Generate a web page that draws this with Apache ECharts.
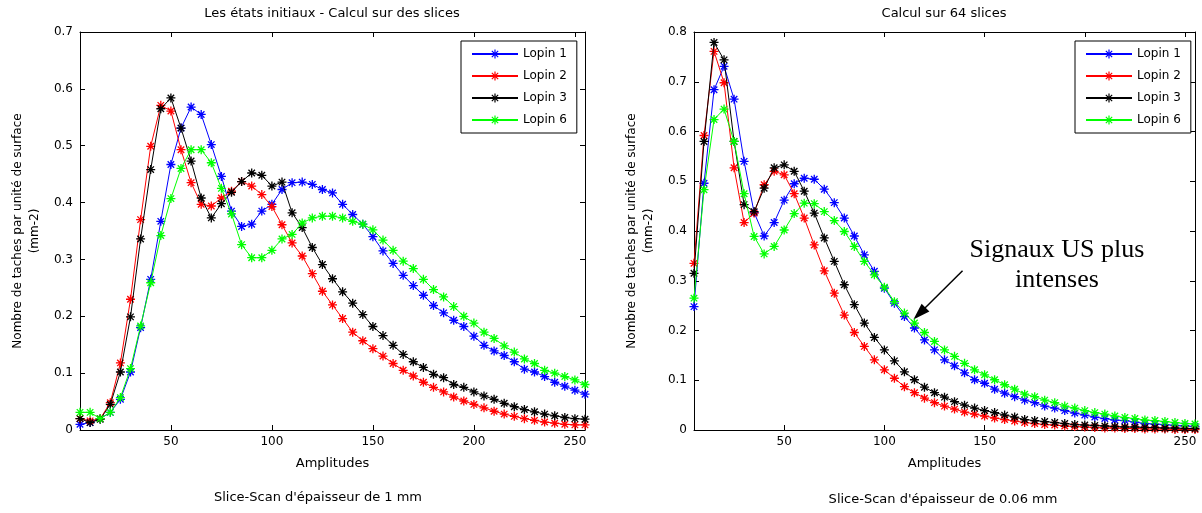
<!DOCTYPE html>
<html>
<head>
<meta charset="utf-8">
<script src="https://cdn.jsdelivr.net/npm/echarts@6/dist/echarts.min.js"></script>
<style>html,body{margin:0;padding:0;background:#fff;}#c{width:1202px;height:513px;}</style>
</head>
<body>
<div id="c"></div>
<script>
const amplitudes = [5,10,15,20,25,30,35,40,45,50,55,60,65,70,75,80,85,90,95,100,105,110,115,120,125,130,135,140,145,150,155,160,165,170,175,180,185,190,195,200,205,210,215,220,225,230,235,240,245,250,255];
const seriesNames = ['Lopin 1','Lopin 2','Lopin 3','Lopin 6'];
const xTicks = [50,100,150,200,250];

const left_lopin1 = [0.010,0.013,0.020,0.031,0.054,0.102,0.180,0.265,0.367,0.467, 0.531,0.568,0.555,0.502,0.446,0.385,0.358,0.362,0.385,0.397, 0.423,0.435,0.436,0.432,0.423,0.417,0.397,0.379,0.362,0.340, 0.315,0.293,0.272,0.254,0.237,0.219,0.206,0.193,0.182,0.165, 0.149,0.139,0.131,0.120,0.107,0.102,0.094,0.084,0.077,0.070, 0.063];
const left_lopin2 = [0.020,0.016,0.020,0.048,0.118,0.230,0.370,0.499,0.571,0.561, 0.493,0.435,0.397,0.394,0.408,0.420,0.437,0.429,0.414,0.393, 0.361,0.329,0.306,0.275,0.244,0.220,0.196,0.172,0.157,0.143, 0.130,0.117,0.105,0.095,0.084,0.075,0.067,0.058,0.051,0.045, 0.039,0.033,0.028,0.024,0.020,0.017,0.014,0.012,0.010,0.009, 0.009];
const left_lopin3 = [0.020,0.013,0.019,0.045,0.102,0.199,0.336,0.458,0.565,0.584, 0.531,0.473,0.408,0.373,0.398,0.418,0.437,0.452,0.448,0.429, 0.436,0.382,0.356,0.321,0.291,0.266,0.243,0.223,0.203,0.182, 0.166,0.149,0.133,0.120,0.110,0.098,0.092,0.080,0.075,0.067, 0.060,0.054,0.047,0.041,0.036,0.032,0.028,0.025,0.022,0.020, 0.019];
const left_lopin6 = [0.031,0.031,0.020,0.031,0.057,0.108,0.183,0.259,0.342,0.407, 0.460,0.493,0.493,0.470,0.425,0.380,0.326,0.303,0.303,0.316, 0.336,0.344,0.364,0.373,0.376,0.376,0.373,0.367,0.362,0.352, 0.334,0.316,0.297,0.284,0.265,0.247,0.234,0.217,0.200,0.188, 0.172,0.161,0.148,0.137,0.125,0.117,0.105,0.100,0.094,0.088, 0.080];

const right_lopin1 = [0.248,0.496,0.684,0.731,0.665,0.540,0.437,0.390,0.417,0.462, 0.495,0.506,0.504,0.484,0.457,0.426,0.390,0.352,0.319,0.285, 0.255,0.228,0.205,0.181,0.161,0.141,0.129,0.115,0.101,0.094, 0.082,0.074,0.067,0.060,0.055,0.048,0.044,0.039,0.034,0.030, 0.026,0.023,0.020,0.019,0.016,0.013,0.012,0.011,0.009,0.008, 0.007];
const right_lopin2 = [0.335,0.592,0.761,0.698,0.527,0.417,0.436,0.493,0.520,0.513, 0.475,0.426,0.372,0.320,0.275,0.231,0.196,0.168,0.141,0.121, 0.104,0.087,0.075,0.064,0.055,0.048,0.042,0.036,0.032,0.028, 0.024,0.021,0.018,0.015,0.013,0.011,0.010,0.008,0.007,0.006, 0.005,0.004,0.004,0.003,0.003,0.002,0.002,0.002,0.001,0.001, 0.001];
const right_lopin3 = [0.315,0.580,0.779,0.744,0.580,0.453,0.439,0.486,0.527,0.533, 0.520,0.480,0.436,0.386,0.339,0.292,0.252,0.215,0.186,0.161, 0.139,0.117,0.101,0.086,0.075,0.066,0.057,0.050,0.044,0.039, 0.035,0.030,0.026,0.021,0.019,0.017,0.015,0.013,0.011,0.010, 0.009,0.008,0.007,0.006,0.006,0.005,0.005,0.004,0.004,0.003, 0.003];
const right_lopin6 = [0.265,0.483,0.624,0.645,0.580,0.475,0.389,0.354,0.369,0.402, 0.435,0.456,0.455,0.439,0.421,0.399,0.369,0.339,0.312,0.287, 0.258,0.235,0.215,0.196,0.178,0.161,0.148,0.134,0.121,0.111, 0.101,0.091,0.082,0.072,0.067,0.060,0.055,0.048,0.044,0.039, 0.035,0.032,0.028,0.025,0.023,0.020,0.019,0.017,0.015,0.013, 0.012];

// annotation arrow (data coords of right chart): tail and head centre
const arrowTail = [139, 0.32];
const arrowHead = [117.5, 0.234];

const colors = ['#0000ff','#ff0000','#000000','#00ff00'];
const FONT = 'DejaVu Sans';
const ASTER = 'path://M0,-1L0,1M-1,0L1,0M-0.72,-0.72L0.72,0.72M-0.72,0.72L0.72,-0.72';

function pairs(vals){ return amplitudes.map((a,i)=>[a, vals[i]]); }

function xAxes(gridIndex){
  const common = {
    type:'value', gridIndex, min:5, max:255,
    splitLine:{show:false},
    axisLine:{show:true, onZero:false, lineStyle:{color:'#000', width:1}},
    axisTick:{show:true, inside:true, length:5, customValues:xTicks, lineStyle:{color:'#000'}},
  };
  return [
    Object.assign({}, common, {
      position:'bottom',
      axisLabel:{show:true, customValues:xTicks, margin:6, color:'#000', fontFamily:FONT, fontSize:12},
      name:'Amplitudes', nameLocation:'middle', nameGap:27,
      nameTextStyle:{color:'#000', fontFamily:FONT, fontSize:13}
    }),
    Object.assign({}, common, {position:'top', axisLabel:{show:false}})
  ];
}
function yAxes(gridIndex, max){
  const common = {
    type:'value', gridIndex, min:0, max:max, interval:0.1,
    splitLine:{show:false},
    axisLine:{show:true, onZero:false, lineStyle:{color:'#000', width:1}},
    axisTick:{show:true, inside:true, length:5, lineStyle:{color:'#000'}},
  };
  return [
    Object.assign({}, common, {
      position:'left',
      axisLabel:{show:true, margin:7, color:'#000', fontFamily:FONT, fontSize:12},
      name:'Nombre de taches par unité de surface\n(mm-2)', nameLocation:'middle', nameGap:37, nameRotate:90,
      nameTextStyle:{color:'#000', fontFamily:FONT, fontSize:12, lineHeight:17}
    }),
    Object.assign({}, common, {position:'right', axisLabel:{show:false}})
  ];
}

function makeSeries(vals, idx, xi, yi, extra){
  const s = {
    name: seriesNames[idx], type:'line', xAxisIndex:xi, yAxisIndex:yi,
    data: pairs(vals),
    symbol: ASTER, symbolSize: 9,
    showSymbol:true,
    lineStyle:{color:colors[idx], width:1},
    itemStyle:{color:colors[idx], borderColor:colors[idx], borderWidth:1.3},
    emphasis:{disabled:true},
    z: 2 + idx
  };
  return Object.assign(s, extra || {});
}

const leftSets = [left_lopin1, left_lopin2, left_lopin3, left_lopin6];
const rightSets = [right_lopin1, right_lopin2, right_lopin3, right_lopin6];

const series = [];
leftSets.forEach((v,i)=>series.push(makeSeries(v,i,0,0)));
rightSets.forEach((v,i)=>series.push(makeSeries(v,i,2,2,
  i===3 ? {markLine:{
    silent:true, animation:false,
    symbol:['none','triangle'], symbolSize:[11,17],
    lineStyle:{color:'#000', width:1.5, type:'solid'},
    itemStyle:{color:'#000'},
    label:{show:false},
    data:[[{coord:arrowTail},{coord:arrowHead}]]
  }} : {})));

function legendAt(left){
  return {
    show:true, orient:'vertical', left:left, top:41,
    data: seriesNames,
    itemWidth:46, itemHeight:11, itemGap:10,
    padding:[7,10,7,10],
    backgroundColor:'#fff', borderColor:'#000', borderWidth:1, borderRadius:0,
    itemStyle:{borderWidth:1.2},
    textStyle:{color:'#000', fontFamily:FONT, fontSize:12},
    selectedMode:false
  };
}

const option = {
  animation:false,
  backgroundColor:'#fff',
  title:[
    {text:'Les états initiaux - Calcul sur des slices', left:332, top:7, textAlign:'center', padding:0,
     textStyle:{fontFamily:FONT, fontSize:13, fontWeight:'normal', color:'#000'}},
    {text:'Calcul sur 64 slices', left:944, top:7, textAlign:'center', padding:0,
     textStyle:{fontFamily:FONT, fontSize:13, fontWeight:'normal', color:'#000'}},
    {text:"Slice-Scan d'épaisseur de 1 mm", left:318, top:491, textAlign:'center', padding:0,
     textStyle:{fontFamily:FONT, fontSize:13, fontWeight:'normal', color:'#000'}},
    {text:"Slice-Scan d'épaisseur de 0.06 mm", left:943, top:493, textAlign:'center', padding:0,
     textStyle:{fontFamily:FONT, fontSize:13, fontWeight:'normal', color:'#000'}}
  ],
  grid:[
    {left:80, top:32, width:505, height:398},
    {left:694, top:32, width:501, height:398}
  ],
  legend:[legendAt(461), legendAt(1075)],
  xAxis:[...xAxes(0), ...xAxes(1)],
  yAxis:[...yAxes(0,0.7), ...yAxes(1,0.8)],
  series: series,
  graphic:[
    {type:'text', x:1057, y:235, silent:true,
     style:{text:'Signaux US plus\nintenses', x:0, y:0, textAlign:'center', textVerticalAlign:'top',
            fontFamily:'Liberation Serif', fontSize:26, lineHeight:30, fill:'#000'}}
  ]
};

const chart = echarts.init(document.getElementById('c'), null, {renderer:'canvas'});
chart.setOption(option);
</script>
</body>
</html>
